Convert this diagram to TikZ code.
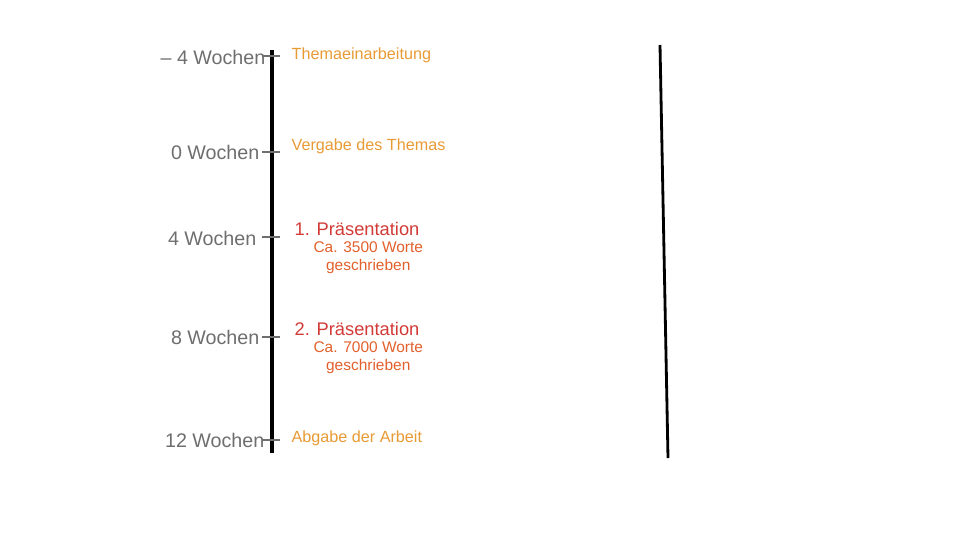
\documentclass[tikz,border=0pt]{standalone}
\usepackage{fontspec}
\setmainfont{Liberation Sans}
\usepackage{xcolor}
\usetikzlibrary{positioning}

\definecolor{weekgray}{HTML}{6E6E6E}
\definecolor{eventorange}{HTML}{E89A35}
\definecolor{eventred}{HTML}{D23A36}
\definecolor{noteorange}{HTML}{E2602C}

\begin{document}
\begin{tikzpicture}[x=0.025cm, y=-0.025cm,
    week/.style={anchor=east, text=weekgray, font=\fontsize{14}{16}\selectfont, inner sep=1pt},
    event/.style={anchor=west, text=eventorange, font=\fontsize{11.5}{13}\selectfont, inner sep=1pt},
    pres/.style={anchor=west, text=eventred, font=\fontsize{13}{15}\selectfont, inner sep=1pt},
    note/.style={text=noteorange, font=\fontsize{11}{13}\selectfont, align=center, inner sep=1pt},
    tick/.style={draw=weekgray, line width=0.8pt}]
    \useasboundingbox (0,0) rectangle (960,540);

    % Timeline
    \coordinate (top) at (272,50);
    \coordinate (bottom) at (272,453);
    \draw[line width=2.2pt] (top) -- (bottom);

    % Second line
    \coordinate (rtop) at (660,45);
    \coordinate (rbottom) at (668,458);
    \draw[line width=2pt] (rtop) -- (rbottom);

    % Ticks
    \coordinate (t1) at (272,56);
    \coordinate (t2) at (272,152);
    \coordinate (t3) at (272,237);
    \coordinate (t4) at (272,337);
    \coordinate (t5) at (272,440);
    \foreach \t in {t1,t2,t3,t4,t5}
        \draw[tick] ([xshift=-7]\t) -- ([xshift=6]\t);

    % Weeks
    \node[week] (w1) at (267,57) {– 4 Wochen};
    \node[week] (w2) at (261,152) {0 Wochen};
    \node[week] (w3) at (258,238) {4 Wochen};
    \node[week] (w4) at (261,337) {8 Wochen};
    \node[week] (w5) at (266,440) {12 Wochen};

    % Events
    \node[event] (e1) at (290,55) {Themaeinarbeitung};
    \node[event] (e2) at (290,146) {Vergabe des Themas};
    \node[pres] (p1) at (293,229) {1. Präsentation};
    \node[note, below=2pt of p1, xshift=8] (n1) {Ca. 3500 Worte\\geschrieben};
    \node[pres] (p2) at (293,329) {2. Präsentation};
    \node[note, below=2pt of p2, xshift=8] (n2) {Ca. 7000 Worte\\geschrieben};
    \node[event] (e3) at (290,438) {Abgabe der Arbeit};
\end{tikzpicture}
\end{document}
